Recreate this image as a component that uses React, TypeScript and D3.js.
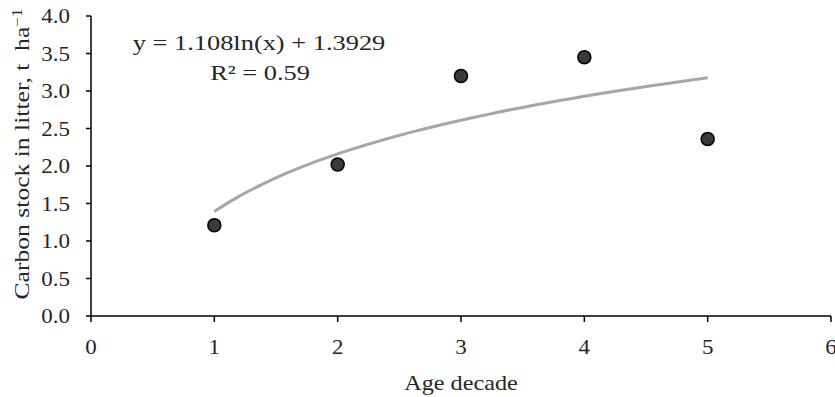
import * as d3 from "d3"

// observed points (age decade, carbon stock t/ha)
const decades = [1, 2, 3, 4, 5]
const carbonStock = [1.21, 2.02, 3.2, 3.45, 2.36]

// logarithmic trendline shown on the chart: y = a ln(x) + b
const trendA = 1.108
const trendB = 1.3929
const trendLabel = "y = 1.108ln(x) + 1.3929"
const r2Label = "R² = 0.59"

const xTicks = [0, 1, 2, 3, 4, 5, 6]
const yTicks = [0, 0.5, 1, 1.5, 2, 2.5, 3, 3.5, 4]

const width = 835
const height = 397
const margin = { top: 16, right: 4, bottom: 81, left: 91 }
const font = "'Liberation Serif', 'Times New Roman', serif"
const ink = "#262626"

export default function App() {
  const x = d3
    .scaleLinear()
    .domain([0, 6])
    .range([margin.left, width - margin.right])
  const y = d3
    .scaleLinear()
    .domain([0, 4])
    .range([height - margin.bottom, margin.top])

  // sample the fitted curve between first and last decade
  const trendX = d3.range(0, 41).map((i) => decades[0] + (i / 40) * (decades[4] - decades[0]))
  const line = d3
    .line<number>()
    .x((d) => x(d))
    .y((d) => y(trendA * Math.log(d) + trendB))
    .curve(d3.curveMonotoneX)

  const y0 = y(0)
  const x0 = x(0)

  return (
    <svg
      width={width}
      height={height}
      style={{ position: "absolute", left: 0, top: 0, background: "white" }}
      fontFamily={font}
    >
      {/* y axis */}
      <line x1={x0} x2={x0} y1={y(4)} y2={y0} stroke="black" strokeWidth={1.5} />
      {yTicks.map((t) => (
        <g key={"y" + t}>
          <line x1={x0 - 5} x2={x0} y1={y(t)} y2={y(t)} stroke="black" strokeWidth={1.5} />
          <text
            transform={`translate(70, ${y(t) + 7}) scale(1.15, 1)`}
            textAnchor="end"
            fontSize={20}
            fill={ink}
          >
            {t.toFixed(1)}
          </text>
        </g>
      ))}
      {/* x axis */}
      <line x1={x0} x2={x(6)} y1={y0} y2={y0} stroke="black" strokeWidth={1.5} />
      {xTicks.map((t) => (
        <g key={"x" + t}>
          <line x1={x(t)} x2={x(t)} y1={y0} y2={y0 + 6} stroke="black" strokeWidth={1.5} />
          <text
            transform={`translate(${x(t)}, 354) scale(1.15, 1)`}
            textAnchor="middle"
            fontSize={20}
            fill={ink}
          >
            {t}
          </text>
        </g>
      ))}

      <text transform="translate(461, 390) scale(1.1, 1)" textAnchor="middle" fontSize={22} fill={ink}>
        Age decade
      </text>
      <text
        transform={`translate(29, 154) rotate(-90) scale(1.22, 1)`}
        textAnchor="middle"
        fontSize={21}
        fill={ink}
      >
        Carbon stock in litter,{"\u00a0"}t{"\u00a0\u00a0"}ha
        <tspan dy={-7} fontSize={14}>−1</tspan>
      </text>

      {/* trendline */}
      <path d={line(trendX) ?? ""} fill="none" stroke="#a6a6a6" strokeWidth={3} />

      {/* points */}
      {decades.map((d, i) => (
        <circle key={d} cx={x(d)} cy={y(carbonStock[i])} r={6.5} fill="#3a3a3a" stroke="black" strokeWidth={1.5} />
      ))}

      <text transform="translate(259, 50) scale(1.2, 1)" textAnchor="middle" fontSize={22} fill={ink}>
        {trendLabel}
      </text>
      <text transform="translate(260, 80) scale(1.2, 1)" textAnchor="middle" fontSize={22} fill={ink}>
        {r2Label}
      </text>
    </svg>
  )
}
